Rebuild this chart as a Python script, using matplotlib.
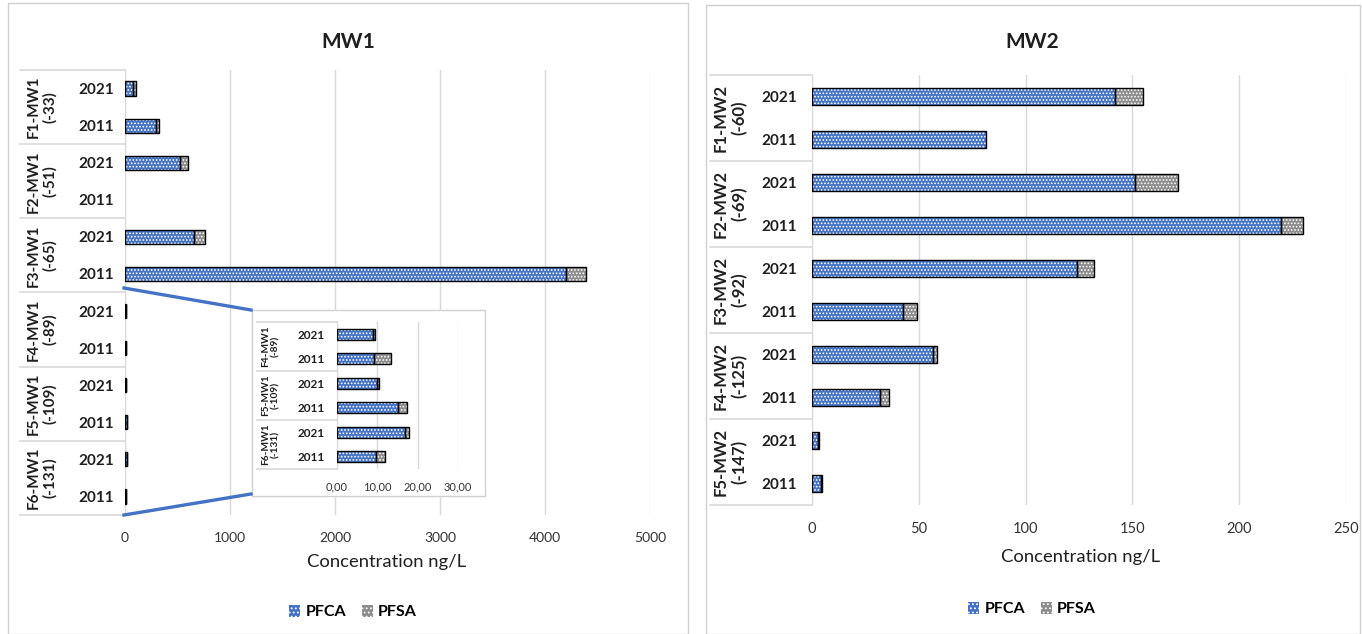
import numpy as np
import matplotlib
matplotlib.use('Agg')
import matplotlib.pyplot as plt
from matplotlib import transforms
from matplotlib.patches import Patch, Rectangle
from matplotlib.lines import Line2D

W, H = 1362, 634

plt.rcParams['font.family'] = ['Lato', 'DejaVu Sans']
plt.rcParams['hatch.linewidth'] = 0.8

BLUE = '#4472C4'
GREY = '#8c8c8c'
GRID = '#d9d9d9'
TXT = '#1f1f1f'

years = ['2021', '2011']

# MW1: rows are F1 2021, F1 2011, F2 2021, ... F6 2011
mw1_groups = ['F1-MW1\n(-33)', 'F2-MW1\n(-51)', 'F3-MW1\n(-65)',
              'F4-MW1\n(-89)', 'F5-MW1\n(-109)', 'F6-MW1\n(-131)']
mw1_pfca = [72, 295, 520, 0, 660, 4200, 8.9, 9.2, 9.9, 15.1, 16.9, 9.7]
mw1_pfsa = [28, 25, 80, 0, 100, 190, 0.6, 4.1, 0.6, 2.3, 1.0, 2.1]
mw1_ticks = [0, 1000, 2000, 3000, 4000, 5000]
inset_ticks = [0, 10, 20, 30]
inset_ticklabels = ['0,00', '10,00', '20,00', '30,00']

# MW2
mw2_groups = ['F1-MW2\n(-60)', 'F2-MW2\n(-69)', 'F3-MW2\n(-92)',
              'F4-MW2\n(-125)', 'F5-MW2\n(-147)']
mw2_pfca = [141.7, 81.6, 151.4, 219.6, 123.9, 42.7, 56.5, 32.0, 2.6, 4.3]
mw2_pfsa = [13.4, 0, 20.1, 10.2, 7.9, 6.5, 1.8, 4.0, 0.6, 0.2]
mw2_ticks = [0, 50, 100, 150, 200, 250]


def rect(l, t, r, b):
	return [l / W, 1 - b / H, (r - l) / W, (b - t) / H]


def drawBars(ax, pfca, pfsa, height):
	y = np.arange(len(pfca))
	pfca = np.array(pfca, dtype=float)
	pfsa = np.array(pfsa, dtype=float)
	for vals, left, color in [(pfca, np.zeros_like(pfca), BLUE), (pfsa, pfca, GREY)]:
		m = vals > 0
		ax.barh(y[m], vals[m], left=left[m], height=height, color=color,
				edgecolor='white', hatch='.....', linewidth=0, zorder=2)
		ax.barh(y[m], vals[m], left=left[m], height=height, facecolor='none',
				edgecolor='black', linewidth=1, zorder=3)


def styleAxis(ax, fig, groups, tableLeft, groupX, yearSize, groupSize, yearPad):
	n = len(groups) * 2
	ax.set_ylim(n - 0.5, -0.5)
	ax.set_yticks(np.arange(n))
	ax.set_yticklabels(years * len(groups), fontsize=yearSize, fontweight='bold', color=TXT)
	ax.tick_params(axis='y', length=0, pad=yearPad)
	ax.tick_params(axis='x', length=0, colors='#333333')
	ax.grid(axis='x', color=GRID, lw=1)
	ax.set_axisbelow(True)
	for s in ['top', 'right', 'bottom']:
		ax.spines[s].set_visible(False)
	ax.spines['left'].set_color(GRID)
	trans = transforms.blended_transform_factory(fig.transFigure, ax.transData)
	axLeft = ax.get_position().x0
	for k in range(len(groups) + 1):
		yb = 2 * k - 0.5
		ax.add_line(Line2D([tableLeft / W, axLeft], [yb, yb], transform=trans,
						   color=GRID, lw=1.2, clip_on=False))
	for k, g in enumerate(groups):
		ax.text(groupX / W, 2 * k + 0.5, g, transform=trans, rotation=90,
				ha='center', va='center', multialignment='center',
				fontsize=groupSize, fontweight='bold', color=TXT, linespacing=1.15)


fig = plt.figure(figsize=(W / 100, H / 100), dpi=100)

# panel frames
fig.add_artist(Rectangle((8 / W, 0), 680 / W, 1 - 3 / H, transform=fig.transFigure,
						 facecolor='none', edgecolor='#cfcfcf', lw=1))
fig.add_artist(Rectangle((706 / W, 0), 654 / W, 1 - 5 / H, transform=fig.transFigure,
						 facecolor='none', edgecolor='#cfcfcf', lw=1))

# ---- MW1 ----
ax1 = fig.add_axes(rect(125, 70, 650, 515))
drawBars(ax1, mw1_pfca, mw1_pfsa, 0.38)
ax1.set_xlim(0, 5000)
ax1.set_xticks(mw1_ticks)
ax1.set_xticklabels([str(t) for t in mw1_ticks], fontsize=10)
ax1.tick_params(axis='x', pad=12)
styleAxis(ax1, fig, mw1_groups, 20, 42, 11, 11, 8)
fig.text(348 / W, 1 - 42 / H, 'MW1', ha='center', va='center', fontsize=15,
		 fontweight='bold', color=TXT)
fig.text(387 / W, 1 - 562 / H, 'Concentration ng/L', ha='center', va='center',
		 fontsize=13.3, color=TXT)

# inset with the small values
fig.add_artist(Rectangle((252 / W, 1 - 496 / H), 233 / W, 186 / H, transform=fig.transFigure,
						 facecolor='white', edgecolor='#d0d0d0', lw=1, zorder=2))
for (x0, y0, x1, y1) in [(124, 288, 251, 310), (124, 515, 251, 494)]:
	fig.add_artist(Line2D([x0 / W, x1 / W], [1 - y0 / H, 1 - y1 / H], transform=fig.transFigure,
						  color=BLUE, lw=2.4, zorder=2))
axIn = fig.add_axes(rect(337, 322, 458, 469))
axIn.set_zorder(3)
axIn.patch.set_alpha(0)
drawBars(axIn, mw1_pfca[6:], mw1_pfsa[6:], 0.45)
axIn.set_xlim(0, 30)
axIn.set_xticks(inset_ticks)
axIn.set_xticklabels(inset_ticklabels, fontsize=8)
axIn.tick_params(axis='x', pad=9)
styleAxis(axIn, fig, mw1_groups[3:], 257, 271, 8.5, 7.3, 9)

# ---- MW2 ----
ax2 = fig.add_axes(rect(812, 75, 1346, 505))
drawBars(ax2, mw2_pfca, mw2_pfsa, 0.4)
ax2.set_xlim(0, 250)
ax2.set_xticks(mw2_ticks)
ax2.set_xticklabels([str(t) for t in mw2_ticks], fontsize=10.5)
ax2.tick_params(axis='x', pad=12)
styleAxis(ax2, fig, mw2_groups, 710, 730, 11, 12, 11)
fig.text(1032 / W, 1 - 42 / H, 'MW2', ha='center', va='center', fontsize=15,
		 fontweight='bold', color=TXT)
fig.text(1081 / W, 1 - 557 / H, 'Concentration ng/L', ha='center', va='center',
		 fontsize=13.3, color=TXT)

# legends
handles = [Patch(facecolor=BLUE, edgecolor='white', hatch='....', lw=0, label='PFCA'),
		   Patch(facecolor=GREY, edgecolor='white', hatch='....', lw=0, label='PFSA')]
for cx, cy in [(353, 612), (1032, 609)]:
	fig.legend(handles=handles, loc='center', bbox_to_anchor=(cx / W, 1 - cy / H), ncol=2,
			   frameon=False, handlelength=0.7, handleheight=0.8, handletextpad=0.3,
			   columnspacing=1.0, prop={'size': 11.5, 'weight': 'bold'})

fig.savefig('out.png', dpi=100)
